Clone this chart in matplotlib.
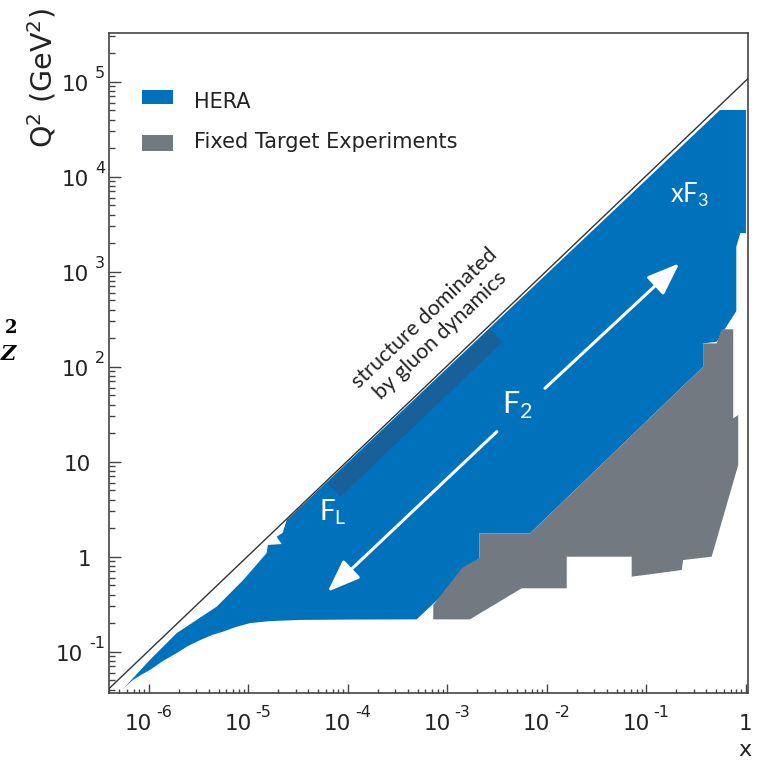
import numpy as np
import matplotlib
matplotlib.use("Agg")
import matplotlib.pyplot as plt
from matplotlib.patches import Rectangle
from matplotlib.ticker import LogLocator, NullFormatter
from matplotlib.transforms import blended_transform_factory, offset_copy

# kinematic limit Q^2 = s x (y = 1) for HERA
S_HERA = 1.03e5

# HERA region outline (x, Q^2): low-x tip, lower edge, right side, back along the limit
hera_x = [5.3e-7, 6.9e-7, 8.3e-7, 1.02e-6, 1.38e-6, 1.9e-6, 2.47e-6, 3.3e-6, 4.3e-6, 5.5e-6,
          7.48e-6, 1.04e-5, 1.64e-5, 3.3e-5, 1.05e-4, 4.9e-4,
          1.68e-3, 2.09e-3, 2.09e-3, 6.74e-3, 0.371, 0.371, 0.508, 0.80, 0.80, 0.877, 1.0,
          1.0, 0.548, 2.42e-5, 2.21e-5, 1.92e-5, 2.16e-5, 1.57e-5, 1.52e-5, 8.87e-6,
          4.79e-6, 1.9e-6, 1.02e-6, 5.97e-7]
hera_q2 = [0.0395, 0.0503, 0.0569, 0.0641, 0.0798, 0.0968, 0.115, 0.133, 0.150, 0.162,
           0.182, 0.200, 0.210, 0.216, 0.218, 0.219,
           0.737, 0.962, 1.76, 1.76, 100, 176, 183, 385, 1830, 2550, 2550,
           5.04e4, 5.04e4, 2.43, 1.79, 1.62, 1.36, 1.33, 1.09, 0.569,
           0.298, 0.157, 0.0818, 0.0446]

# fixed target experiments outline (x, Q^2)
fixed_x = [7.2e-4, 7.2e-4, 1.39e-3, 1.68e-3, 2.09e-3, 2.09e-3, 6.74e-3, 0.371, 0.371, 0.508,
           0.568, 0.745, 0.745, 0.836, 0.836, 0.452, 0.234, 0.226, 0.071, 0.071, 0.0158,
           0.0158, 5.57e-3, 1.68e-3]
fixed_q2 = [0.219, 0.310, 0.755, 0.853, 0.962, 1.76, 1.76, 100, 176, 176,
            248, 248, 28.6, 31.0, 9.23, 1.0, 0.923, 0.724, 0.616, 1.0, 1.0,
            0.465, 0.465, 0.219]

# gluon dominated strip along the kinematic limit (x extent)
gluon_x = [6.0e-5, 2.55e-3]

# F2 arrows: (tail, head)
arrow_up = [(9.55e-3, 59.3), (0.214, 1225)]
arrow_down = [(3.13e-3, 20.7), (6.25e-5, 0.428)]

xticks = [1e-6, 1e-5, 1e-4, 1e-3, 1e-2, 1e-1, 1]
xtick_base = ["10", "10", "10", "10", "10", "10", "1"]
xtick_exp = ["-6", "-5", "-4", "-3", "-2", "-1", ""]
yticks = [1e5, 1e4, 1e3, 1e2, 10, 1, 0.1]
ytick_base = ["10", "10", "10", "10", "10", "1", "10"]
ytick_exp = ["5", "4", "3", "2", "", "", "-1"]

HERA_BLUE = "#0072bc"
FT_GREY = "#737980"
TXT = "#222222"

plt.rcParams["font.family"] = "DejaVu Sans"
plt.rcParams["mathtext.fontset"] = "custom"
plt.rcParams["mathtext.rm"] = "Lato"
plt.rcParams["mathtext.sf"] = "DejaVu Sans"

fig = plt.figure(figsize=(7.6, 7.61), dpi=100)
ax = fig.add_axes([0.1439, 0.0900, 0.8404, 0.8670])
ax.set_xscale("log")
ax.set_yscale("log")
ax.set_xlim(4e-7, 1.05)
ax.set_ylim(0.0372, 3.28e5)

ax.fill(hera_x, hera_q2, color=HERA_BLUE, lw=0, zorder=2)

# darker strip just below the kinematic limit, built in pixel space
p = ax.transData.transform([(gluon_x[0], S_HERA * gluon_x[0]),
                            (gluon_x[1], S_HERA * gluon_x[1])])
d = p[1] - p[0]
u = d / np.hypot(*d)
n = np.array([u[1], -u[0]])
corners = np.array([p[0] + 3 * n, p[1] + 3 * n, p[1] + 21 * n, p[0] + 21 * n])
band = ax.transData.inverted().transform(corners)
ax.fill(band[:, 0], band[:, 1], color="#17609a", lw=0, zorder=3)
angle = np.degrees(np.arctan2(u[1], u[0]))

ax.fill(fixed_x, fixed_q2, color=FT_GREY, lw=0, zorder=4)

xl = np.array(ax.get_xlim())
ax.plot(xl, S_HERA * xl, color="#333333", lw=1.0, zorder=5)

for tail, head in (arrow_up, arrow_down):
    ax.annotate("", xy=head, xytext=tail, zorder=6,
                arrowprops=dict(arrowstyle="-|>,head_length=1.0,head_width=0.38",
                                mutation_scale=20, color="white", lw=2.2,
                                shrinkA=0, shrinkB=0))

ax.text(5.1e-3, 39.5, r"F$_{\mathrm{2}}$", color="white", fontsize=22, family="Lato",
        ha="center", va="center", zorder=7)
ax.text(7.06e-5, 2.95, r"F$_{\mathrm{L}}$", color="white", fontsize=20, family="Lato",
        ha="center", va="center", zorder=7)
ax.text(0.273, 6410, r"xF$_{\mathrm{3}}$", color="white", fontsize=18.5, family="Lato",
        ha="center", va="center", zorder=7)
ax.text(7.1e-4, 264, "structure dominated\nby gluon dynamics", rotation=angle,
        rotation_mode="anchor", ha="center", va="center", family="Lato", fontsize=15.5,
        color=TXT, linespacing=1.2, zorder=7)

# legend drawn by hand
ax.add_patch(Rectangle((0.0506, 0.8916), 0.0485, 0.0217, transform=ax.transAxes,
                       color=HERA_BLUE, lw=0))
ax.add_patch(Rectangle((0.0506, 0.8211), 0.0495, 0.0239, transform=ax.transAxes,
                       color=FT_GREY, lw=0))
ax.text(0.133, 0.8944, "HERA", transform=ax.transAxes, va="center", fontsize=15, color=TXT)
ax.text(0.133, 0.8348, "Fixed Target Experiments", transform=ax.transAxes, va="center",
        fontsize=15, color=TXT)

for side in ("top", "right", "left", "bottom"):
    ax.spines[side].set_color("#444444")
    ax.spines[side].set_linewidth(1.2)
for axis in (ax.xaxis, ax.yaxis):
    axis.set_major_locator(LogLocator(base=10, numticks=30))
    axis.set_minor_locator(LogLocator(base=10, subs=np.arange(2, 10), numticks=200))
    axis.set_minor_formatter(NullFormatter())
ax.tick_params(which="both", direction="in", top=False, right=False,
               labelbottom=False, labelleft=False, color="#444444", width=1.0)
ax.tick_params(axis="y", which="major", length=8.6)
ax.tick_params(axis="y", which="minor", length=4.3)
ax.tick_params(axis="x", which="major", length=6.8)
ax.tick_params(axis="x", which="minor", length=3.2)

# ROOT-like tick labels: "10" with a detached exponent
bx = blended_transform_factory(ax.transData, ax.transAxes)
for xv, base, ex in zip(xticks, xtick_base, xtick_exp):
    if ex:
        ax.text(xv, 0, base, transform=offset_copy(bx, fig=fig, x=3, y=-37.5, units="dots"),
                ha="right", va="baseline", fontsize=15.5, color=TXT)
        ax.text(xv, 0, ex, transform=offset_copy(bx, fig=fig, x=7, y=-24.8, units="dots"),
                ha="left", va="baseline", fontsize=11.5, color=TXT)
    else:
        ax.text(xv, 0, base, transform=offset_copy(bx, fig=fig, x=0, y=-37.5, units="dots"),
                ha="center", va="baseline", fontsize=15.5, color=TXT)

by = blended_transform_factory(ax.transAxes, ax.transData)
renderer = fig.canvas.get_renderer()
ax_left_px = ax.get_position().x0 * fig.bbox.width
for yv, base, ex in zip(yticks, ytick_base, ytick_exp):
    if ex:
        t = ax.text(0, yv, ex, transform=offset_copy(by, fig=fig, x=105 - ax_left_px, y=3.7,
                                                      units="dots"),
                    ha="right", va="baseline", fontsize=11.5, color=TXT)
        x0 = t.get_window_extent(renderer).x0
        ax.text(0, yv, base, transform=offset_copy(by, fig=fig, x=x0 - 6 - ax_left_px, y=-9,
                                                    units="dots"),
                ha="right", va="baseline", fontsize=15.5, color=TXT)
    else:
        ax.text(0, yv, base, transform=offset_copy(by, fig=fig, x=91 - ax_left_px, y=-9,
                                                    units="dots"),
                ha="right", va="baseline", fontsize=15.5, color=TXT)

fig.text(42 / 760, 1 - 78 / 761, r"Q$^{\mathsf{2}}$ (GeV$^{\mathsf{2}}$)", rotation=90,
         ha="center", va="center", fontsize=20.5, color=TXT)
fig.text(745 / 760, 1 - 756 / 761, "x", ha="center", va="baseline", fontsize=16, color=TXT)

# fragments of a neighbouring figure cut by the crop
fig.text(17 / 760, 1 - 328 / 761, "2", family="DejaVu Serif", weight="bold", fontsize=13,
         ha="right", va="center", color="black")
fig.text(16 / 760, 1 - 354 / 761, "Z", family="DejaVu Serif", weight="bold", style="italic",
         fontsize=15, ha="right", va="center", color="black")

fig.savefig("out.png", dpi=100)
